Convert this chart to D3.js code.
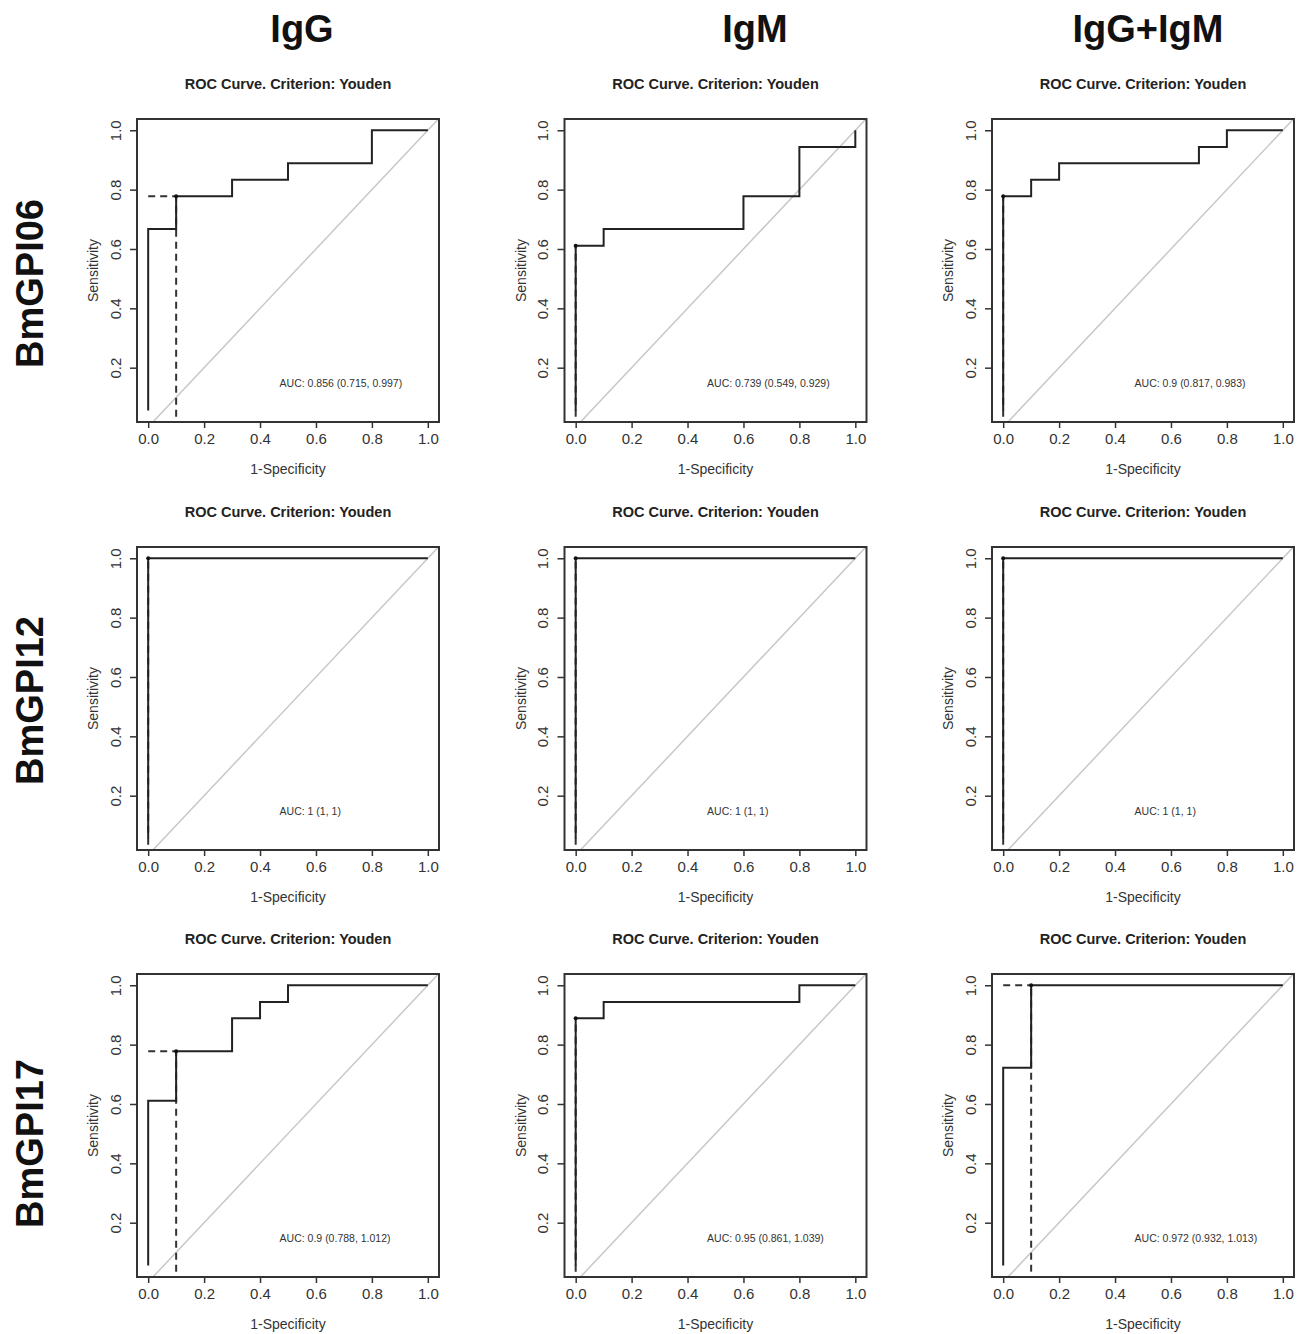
<!DOCTYPE html>
<html>
<head>
<meta charset="utf-8">
<script src="https://cdn.jsdelivr.net/npm/d3@7"></script>
<style>
  html, body { margin: 0; padding: 0; background: #fff; }
  svg { display: block; font-family: "Liberation Sans", Arial, Helvetica, sans-serif; }
</style>
</head>
<body>
<svg id="chart" width="1308" height="1334"></svg>
<script>
// ---------------- DATA ----------------
const isotypes = ["IgG", "IgM", "IgG+IgM"];
const antigens = ["BmGPI06", "BmGPI12", "BmGPI17"];
const chartTitle = "ROC Curve. Criterion: Youden";
const xAxisLabel = "1-Specificity";
const yAxisLabel = "Sensitivity";
const xTicks = [0.0, 0.2, 0.4, 0.6, 0.8, 1.0];
const yTicks = [0.2, 0.4, 0.6, 0.8, 1.0];

// ROC step vertices (1-specificity, sensitivity), row by row (antigen), column by column (isotype)
const rocFPR = [
  [[0, 0, 0.1, 0.3, 0.5, 0.8, 1], [0, 0, 0.1, 0.6, 0.8, 1], [0, 0, 0.1, 0.2, 0.7, 0.8, 1]],
  [[0, 0, 1], [0, 0, 1], [0, 0, 1]],
  [[0, 0, 0.1, 0.3, 0.4, 0.5, 1], [0, 0, 0.1, 0.8, 1], [0, 0, 0.1, 1]]
];
const rocTPR = [
  [[0.056, 0.667, 0.778, 0.833, 0.889, 1, 1], [0.056, 0.611, 0.667, 0.778, 0.944, 1], [0.056, 0.778, 0.833, 0.889, 0.944, 1, 1]],
  [[0.056, 1, 1], [0.056, 1, 1], [0.056, 1, 1]],
  [[0.056, 0.611, 0.778, 0.889, 0.944, 1, 1], [0.056, 0.889, 0.944, 1, 1], [0.056, 0.722, 1, 1]]
];
// Youden optimal cut-off points
const optFPR = [[0.1, 0, 0], [0, 0, 0], [0.1, 0, 0.1]];
const optTPR = [[0.778, 0.611, 0.778], [1, 1, 1], [0.778, 0.889, 1]];
// AUC (95% CI) labels
const aucLabels = [
  ["AUC: 0.856 (0.715, 0.997)", "AUC: 0.739 (0.549, 0.929)", "AUC: 0.9 (0.817, 0.983)"],
  ["AUC: 1 (1, 1)", "AUC: 1 (1, 1)", "AUC: 1 (1, 1)"],
  ["AUC: 0.9 (0.788, 1.012)", "AUC: 0.95 (0.861, 1.039)", "AUC: 0.972 (0.932, 1.013)"]
];

// ---------------- LAYOUT ----------------
const boxLeft = [137, 564.5, 992];
const boxTop = [119, 547, 974];
const boxW = 302, boxH = 303;
const headerX = [302, 755, 1148];
const headerY = 42;
const rowLabelX = 30;
const rowLabelDy = [13, 2, 18];
const xDomain = [-0.04, 1.04];
const yDomain = [0.017, 1.038];
const dashFloor = 0.035;
const aucPos = [0.47, 0.15];

const svg = d3.select("#chart");

// Column headers
svg.selectAll("text.header").data(isotypes).join("text")
  .attr("class", "header")
  .attr("x", (d, i) => headerX[i])
  .attr("y", headerY)
  .attr("text-anchor", "middle")
  .attr("font-size", 38)
  .attr("font-weight", "bold")
  .attr("fill", "#111")
  .text(d => d);

// Row labels
antigens.forEach((a, r) => {
  const cy = boxTop[r] + boxH / 2 + rowLabelDy[r];
  svg.append("text")
    .attr("transform", `translate(${rowLabelX},${cy}) rotate(-90)`)
    .attr("text-anchor", "middle")
    .attr("dominant-baseline", "central")
    .attr("font-size", 38)
    .attr("font-weight", "bold")
    .attr("fill", "#111")
    .text(a);
});

const line = d3.line().curve(d3.curveStepAfter);

antigens.forEach((a, r) => {
  isotypes.forEach((iso, c) => {
    const x0 = boxLeft[c], y0 = boxTop[r];
    const x = d3.scaleLinear().domain(xDomain).range([x0, x0 + boxW]);
    const y = d3.scaleLinear().domain(yDomain).range([y0 + boxH, y0]);
    const g = svg.append("g");
    const clipId = `clip-${r}-${c}`;
    g.append("clipPath").attr("id", clipId)
      .append("rect").attr("x", x0).attr("y", y0).attr("width", boxW).attr("height", boxH);

    // title
    g.append("text")
      .attr("x", x0 + boxW / 2)
      .attr("y", y0 - 30)
      .attr("text-anchor", "middle")
      .attr("font-size", 14.5)
      .attr("font-weight", "bold")
      .attr("fill", "#222")
      .text(chartTitle);

    // diagonal reference
    g.append("line")
      .attr("clip-path", `url(#${clipId})`)
      .attr("x1", x(xDomain[0])).attr("y1", y(xDomain[0]))
      .attr("x2", x(xDomain[1])).attr("y2", y(xDomain[1]))
      .attr("stroke", "#c8c8c8").attr("stroke-width", 1.5);

    // x axis
    const xAxis = d3.axisBottom(x).tickValues(xTicks).tickSize(6).tickPadding(5)
      .tickFormat(d3.format(".1f"));
    const gx = g.append("g").attr("transform", `translate(0,${y0 + boxH})`).call(xAxis);
    gx.select(".domain").remove();
    gx.selectAll(".tick line").attr("stroke", "#333").attr("stroke-width", 1.5);
    gx.selectAll(".tick text").attr("font-size", 15).attr("fill", "#333")
      .attr("font-family", "Liberation Sans, Arial, sans-serif");

    // y axis
    const yAxis = d3.axisLeft(y).tickValues(yTicks).tickSize(7).tickPadding(0)
      .tickFormat(d3.format(".1f"));
    const gy = g.append("g").attr("transform", `translate(${x0},0)`).call(yAxis);
    gy.select(".domain").remove();
    gy.selectAll(".tick line").attr("stroke", "#333").attr("stroke-width", 1.5);
    gy.selectAll(".tick text")
      .attr("x", null).attr("dy", null)
      .attr("transform", "translate(-22,0) rotate(-90)")
      .attr("text-anchor", "middle")
      .attr("dominant-baseline", "central")
      .attr("font-size", 15).attr("fill", "#333")
      .attr("font-family", "Liberation Sans, Arial, sans-serif");

    // axis titles
    g.append("text")
      .attr("x", x0 + boxW / 2)
      .attr("y", y0 + boxH + 52)
      .attr("text-anchor", "middle")
      .attr("font-size", 14)
      .attr("fill", "#333")
      .text(xAxisLabel);
    g.append("text")
      .attr("transform", `translate(${x0 - 44},${y0 + boxH / 2}) rotate(-90)`)
      .attr("text-anchor", "middle")
      .attr("dominant-baseline", "central")
      .attr("font-size", 14)
      .attr("fill", "#333")
      .text(yAxisLabel);

    // optimal point dashed guides
    const ox = optFPR[r][c], oy = optTPR[r][c];
    g.append("path")
      .attr("d", d3.line()([[x(0), y(oy)], [x(ox), y(oy)]]))
      .attr("fill", "none").attr("stroke", "#333").attr("stroke-width", 2)
      .attr("stroke-dasharray", "7,5");
    g.append("path")
      .attr("d", d3.line()([[x(ox), y(dashFloor)], [x(ox), y(oy)]]))
      .attr("fill", "none").attr("stroke", "#333").attr("stroke-width", 2)
      .attr("stroke-dasharray", "7,5");

    // ROC curve
    const pts = rocFPR[r][c].map((f, i) => [x(f), y(rocTPR[r][c][i])]);
    g.append("path")
      .attr("d", line(pts))
      .attr("fill", "none").attr("stroke", "#222").attr("stroke-width", 2);

    // optimal point marker
    g.append("circle")
      .attr("cx", x(ox)).attr("cy", y(oy)).attr("r", 2)
      .attr("fill", "#111");

    // AUC label
    g.append("text")
      .attr("x", x(aucPos[0]))
      .attr("y", y(aucPos[1]))
      .attr("dominant-baseline", "central")
      .attr("font-size", 10.5)
      .attr("fill", "#333")
      .text(aucLabels[r][c]);

    // box
    g.append("rect")
      .attr("x", x0).attr("y", y0).attr("width", boxW).attr("height", boxH)
      .attr("fill", "none").attr("stroke", "#333").attr("stroke-width", 2);
  });
});
</script>
</body>
</html>
